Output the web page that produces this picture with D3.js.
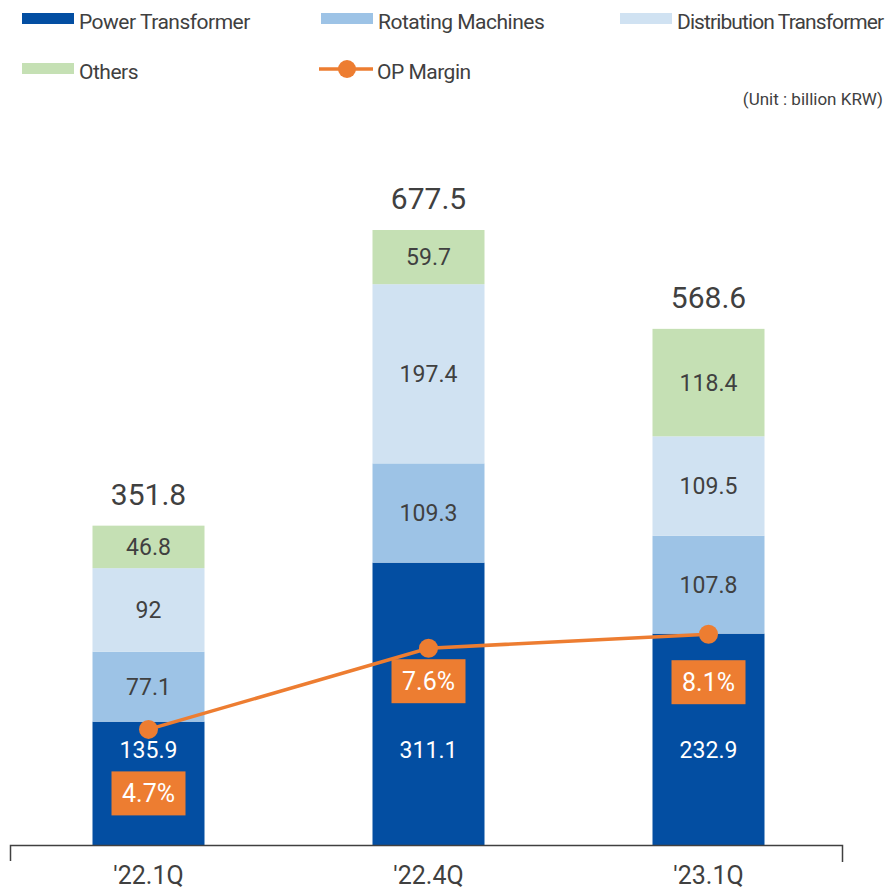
<!DOCTYPE html>
<html lang="en">
<head>
  <meta charset="utf-8">
  <title>Sales by Segment</title>
  <script src="https://cdn.jsdelivr.net/npm/d3@7"></script>
  <style>
    body { margin: 0; background: #fff; }
    text { font-family: Roboto, "Liberation Sans", sans-serif; }
  </style>
</head>
<body>
  <svg class="chart"></svg>
<script>
  // data
  var quarters = ["'22.1Q", "'22.4Q", "'23.1Q"];
  var segments = ["Power Transformer", "Rotating Machines", "Distribution Transformer", "Others"];
  var powerTransformer = [135.9, 311.1, 232.9];
  var rotatingMachines = [77.1, 109.3, 107.8];
  var distributionTransformer = [92, 197.4, 109.5];
  var others = [46.8, 59.7, 118.4];
  var totals = [351.8, 677.5, 568.6];
  var opMargin = [4.7, 7.6, 8.1];

  // layout
  var W = 890, H = 891;
  var colors = ["#034ea2", "#9dc3e6", "#d0e2f2", "#c5e0b4"];
  var labelColors = ["#ffffff", "#404040", "#404040", "#404040"];
  var orange = "#ed7d31";
  var textColor = "#404040";
  var marginBoxDy = [42, 11, 26];

  var rows = quarters.map(function(q, i) {
    return {
      quarter: q,
      "Power Transformer": powerTransformer[i],
      "Rotating Machines": rotatingMachines[i],
      "Distribution Transformer": distributionTransformer[i],
      "Others": others[i]
    };
  });
  var stacked = d3.stack().keys(segments)(rows);

  var svg = d3.select(".chart").attr("width", W).attr("height", H);

  var x = d3.scaleBand().domain(quarters).range([8.5, 848.5])
    .paddingInner(0.6).paddingOuter(0.3);
  var y = d3.scaleLinear().domain([0, 677.5]).range([845, 230]);
  var ym = d3.scaleLinear().domain([0, 10]).range([861, 581]);

  // bars
  var layer = svg.selectAll("g.layer")
    .data(stacked)
    .enter().append("g")
    .attr("class", "layer")
    .attr("fill", function(d, i) { return colors[i]; });

  layer.selectAll("rect")
    .data(function(d) { return d; })
    .enter().append("rect")
    .attr("x", function(d) { return x(d.data.quarter); })
    .attr("width", x.bandwidth())
    .attr("y", function(d) { return y(d[1]); })
    .attr("height", function(d) { return y(d[0]) - y(d[1]); });

  // segment labels
  stacked.forEach(function(s, si) {
    svg.selectAll("text.seg" + si)
      .data(s)
      .enter().append("text")
      .attr("class", "seg" + si)
      .attr("x", function(d) { return x(d.data.quarter) + x.bandwidth() / 2; })
      .attr("y", function(d) {
        if (si === 0) return y(0) - 95;
        return (y(d[0]) + y(d[1])) / 2;
      })
      .attr("dy", "0.35em")
      .attr("text-anchor", "middle")
      .style("font-size", "23px")
      .style("fill", labelColors[si])
      .text(function(d) { return (+(d[1] - d[0]).toFixed(1)).toString(); });
  });

  // totals
  svg.selectAll("text.total")
    .data(totals)
    .enter().append("text")
    .attr("class", "total")
    .attr("x", function(d, i) { return x(quarters[i]) + x.bandwidth() / 2; })
    .attr("y", function(d) { return y(d) - 21; })
    .attr("text-anchor", "middle")
    .style("font-size", "30px")
    .style("fill", textColor)
    .text(function(d) { return d.toFixed(1); });

  // axis
  var axis = svg.append("g")
    .attr("transform", "translate(0,845)")
    .call(d3.axisBottom(x).tickSize(0).tickPadding(21));
  axis.select(".domain")
    .attr("d", "M10.5,16V0.5H842.5V17")
    .attr("stroke", "#404040")
    .attr("stroke-width", 1.5);
  axis.selectAll("text")
    .style("font-size", "25px")
    .style("font-family", "Roboto, sans-serif")
    .attr("fill", textColor);

  // OP margin line
  var cx = function(d, i) { return x(quarters[i]) + x.bandwidth() / 2; };
  svg.append("path")
    .datum(opMargin)
    .attr("fill", "none")
    .attr("stroke", orange)
    .attr("stroke-width", 3.5)
    .attr("d", d3.line().x(cx).y(function(d) { return ym(d); }));

  svg.selectAll("circle.pt")
    .data(opMargin)
    .enter().append("circle")
    .attr("class", "pt")
    .attr("cx", cx)
    .attr("cy", function(d) { return ym(d); })
    .attr("r", 9.5)
    .attr("fill", orange);

  var box = svg.selectAll("g.mbox")
    .data(opMargin)
    .enter().append("g")
    .attr("class", "mbox")
    .attr("transform", function(d, i) {
      return "translate(" + cx(d, i) + "," + (ym(d) + marginBoxDy[i]) + ")";
    });
  box.append("rect")
    .attr("x", -37).attr("width", 74)
    .attr("y", 0).attr("height", 44)
    .attr("fill", orange);
  box.append("text")
    .attr("y", 22).attr("dy", "0.36em")
    .attr("text-anchor", "middle")
    .style("font-size", "25px")
    .style("fill", "#fff")
    .text(function(d) { return d.toFixed(1) + "%"; });

  // legend
  var legendPos = [[22, 13], [321, 13], [620, 13], [22, 63]];
  var legendSpacing = ["-0.5px", "-0.5px", "-0.9px", "-0.5px"];
  segments.forEach(function(s, i) {
    var g = svg.append("g").attr("transform", "translate(" + legendPos[i][0] + "," + legendPos[i][1] + ")");
    g.append("rect").attr("width", 52).attr("height", 11).attr("fill", colors[i]);
    g.append("text").attr("x", 57).attr("y", 8).attr("dy", "0.36em")
      .style("font-size", "21px").style("fill", textColor).style("letter-spacing", legendSpacing[i])
      .text(s);
  });
  var lg = svg.append("g").attr("transform", "translate(319,69)");
  lg.append("line").attr("x1", 0).attr("x2", 54).attr("stroke", orange).attr("stroke-width", 3.5);
  lg.append("circle").attr("cx", 28).attr("r", 9).attr("fill", orange);
  lg.append("text").attr("x", 58).attr("y", 2).attr("dy", "0.36em")
    .style("font-size", "21px").style("fill", textColor).style("letter-spacing", "-0.5px")
    .text("OP Margin");

  svg.append("text")
    .attr("x", 883).attr("y", 105)
    .attr("text-anchor", "end")
    .style("font-size", "17px")
    .style("fill", textColor)
    .text("(Unit : billion KRW)");
</script>
</body>
</html>
